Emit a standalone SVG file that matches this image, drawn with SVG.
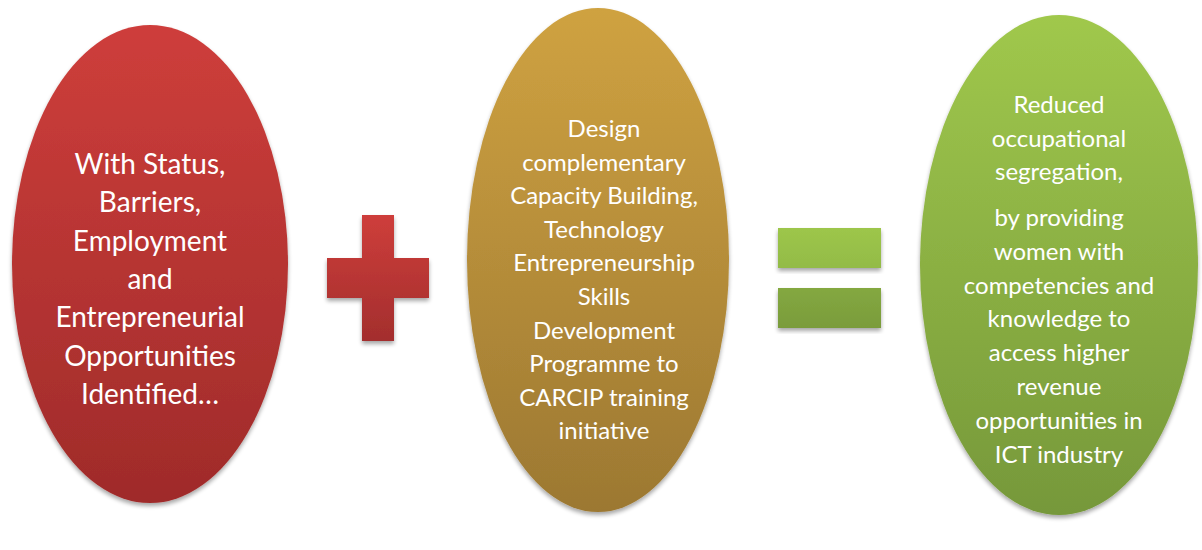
<svg xmlns="http://www.w3.org/2000/svg" width="1202" height="550" viewBox="0 0 1202 550">
<defs>
<linearGradient id="gRed" x1="0" y1="0" x2="0" y2="1"><stop offset="0" stop-color="#CE3E3B"/><stop offset="1" stop-color="#9F2B2A"/></linearGradient>
<linearGradient id="gGold" x1="0" y1="0" x2="0" y2="1"><stop offset="0" stop-color="#CFA241"/><stop offset="1" stop-color="#9C7832"/></linearGradient>
<linearGradient id="gGreen" x1="0" y1="0" x2="0" y2="1"><stop offset="0" stop-color="#A0C84C"/><stop offset="1" stop-color="#76983A"/></linearGradient>
<linearGradient id="gPlus" x1="0" y1="0" x2="0" y2="1"><stop offset="0" stop-color="#CE3E3B"/><stop offset="1" stop-color="#A32E2D"/></linearGradient>
<linearGradient id="gEq1" x1="0" y1="0" x2="0" y2="1"><stop offset="0" stop-color="#9DC64B"/><stop offset="1" stop-color="#93BB46"/></linearGradient>
<linearGradient id="gEq2" x1="0" y1="0" x2="0" y2="1"><stop offset="0" stop-color="#84A841"/><stop offset="1" stop-color="#7A9C3B"/></linearGradient>
<filter id="sh" x="-10%" y="-10%" width="120%" height="125%"><feGaussianBlur in="SourceAlpha" stdDeviation="2"/><feOffset dy="3"/><feComponentTransfer><feFuncA type="linear" slope="0.35"/></feComponentTransfer><feMerge><feMergeNode/><feMergeNode in="SourceGraphic"/></feMerge></filter>
</defs>
<style>
text{font-family:Lato,"Liberation Sans",sans-serif;fill:#FFFFFF;text-anchor:middle}
.r{font-size:28px}
.g{font-size:24px}
.n{font-size:24px}
</style>
<rect width="1202" height="550" fill="#FFFFFF"/>
<g id="node-red">
<ellipse cx="150" cy="264" rx="138" ry="239" fill="url(#gRed)" filter="url(#sh)"/>
<text class="r"><tspan x="150" y="174">With Status,</tspan><tspan x="150" y="212.3">Barriers,</tspan><tspan x="150" y="250.6">Employment</tspan><tspan x="150" y="289">and</tspan><tspan x="150" y="327.3">Entrepreneurial</tspan><tspan x="150" y="365.6">Opportunities</tspan><tspan x="150" y="404">Identified…</tspan></text>
</g>
<g id="node-plus">
<path d="M362 215H394V258H429V298H394V341H362V298H327V258H362Z" fill="url(#gPlus)" filter="url(#sh)"/>
</g>
<g id="node-gold">
<ellipse cx="598" cy="260" rx="131" ry="252" fill="url(#gGold)" filter="url(#sh)"/>
<text class="g"><tspan x="604" y="137">Design</tspan><tspan x="604" y="170.6">complementary</tspan><tspan x="604" y="204.2">Capacity Building,</tspan><tspan x="604" y="237.8">Technology</tspan><tspan x="604" y="271.4">Entrepreneurship</tspan><tspan x="604" y="305">Skills</tspan><tspan x="604" y="338.6">Development</tspan><tspan x="604" y="372.2">Programme to</tspan><tspan x="604" y="405.8">CARCIP training</tspan><tspan x="604" y="439.4">initiative</tspan></text>
</g>
<g id="node-equals">
<rect x="778" y="228" width="103" height="40" fill="url(#gEq1)" filter="url(#sh)"/>
<rect x="778" y="288" width="103" height="40" fill="url(#gEq2)" filter="url(#sh)"/>
</g>
<g id="node-green">
<ellipse cx="1059" cy="265" rx="139" ry="250" fill="url(#gGreen)" filter="url(#sh)"/>
<text class="n"><tspan x="1059" y="113">Reduced</tspan><tspan x="1059" y="146.5">occupational</tspan><tspan x="1059" y="180">segregation,</tspan><tspan x="1059" y="226">by providing</tspan><tspan x="1059" y="259.8">women with</tspan><tspan x="1059" y="293.6">competencies and</tspan><tspan x="1059" y="327.4">knowledge to</tspan><tspan x="1059" y="361.2">access higher</tspan><tspan x="1059" y="395">revenue</tspan><tspan x="1059" y="428.8">opportunities in</tspan><tspan x="1059" y="462.6">ICT industry</tspan></text>
</g>
<g id="connectors"/>
</svg>
